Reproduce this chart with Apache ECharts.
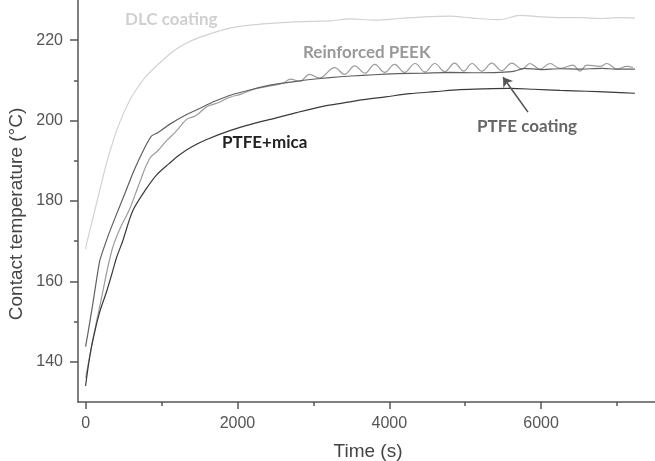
<!DOCTYPE html>
<html>
<head>
<meta charset="utf-8">
<script src="https://cdn.jsdelivr.net/npm/echarts@6/dist/echarts.min.js"></script>
<style>
  html, body { margin: 0; padding: 0; background: #fff; }
  #chart { width: 655px; height: 461px; }
</style>
</head>
<body>
<div id="chart"></div>
<script>
// contact temperature (°C) vs time (s)
const dlcTime = [0, 15, 80, 145, 210, 277, 356, 448, 580, 700, 804, 1015, 1150, 1331, 1500, 1674, 1830, 1990, 2200, 2385, 2700, 3000, 3216, 3500, 3800, 4138, 4450, 4797, 5100, 5456, 5720, 6000, 6250, 6511, 6800, 7000, 7236]
const dlcTemp = [168, 169.5, 174.5, 179.5, 184.5, 189.5, 194.5, 199.5, 205, 208.6, 211.2, 215, 217.2, 219.3, 220.7, 221.8, 222.7, 223.3, 223.8, 224.1, 224.5, 224.7, 224.8, 225.3, 225.0, 225.4, 225.8, 226.0, 225.5, 225.1, 226.2, 225.8, 225.6, 225.6, 225.4, 225.6, 225.5]

const peekTime = [0, 50, 100, 200, 343, 450, 580, 700, 843, 950, 1067, 1200, 1331, 1450, 1600, 1726, 1900, 2050, 2200, 2400, 2600, 2700, 2820, 2950, 3080, 3280, 3410, 3545, 3680, 3810, 3940, 4070, 4200, 4340, 4470, 4600, 4730, 4860, 4980, 5090, 5220, 5350, 5480, 5615, 5750, 5852, 5984, 6116, 6247, 6419, 6511, 6603, 6775, 6867, 6999, 7130, 7210]
const peekTemp = [136, 141, 146, 155, 167.5, 173, 178, 184, 190.5, 192.5, 195, 197.5, 200.3, 201.2, 203.5, 204.3, 205.8, 206.6, 207.7, 208.5, 209.3, 210.3, 209.8, 211.5, 210.6, 213.2, 211.5, 213.6, 211.8, 214.0, 212.0, 214.0, 212.0, 214.2, 212.1, 214.2, 212.2, 214.3, 212.3, 214.2, 212.3, 214.3, 212.4, 214.3, 212.8, 214.2, 212.8, 214.2, 213.0, 213.8, 212.3, 213.8, 213.5, 214.2, 212.8, 213.5, 213.2]

const ptfeTime = [0, 30, 100, 185, 300, 409, 520, 620, 720, 804, 870, 950, 1100, 1331, 1500, 1700, 1937, 2200, 2400, 2600, 2900, 3216, 3500, 3800, 4100, 4450, 4800, 5100, 5456, 5650, 5770, 6000, 6250, 6500, 6800, 7000, 7236]
const ptfeTemp = [143.8, 147, 155, 165, 171.5, 176.8, 182, 186.8, 191, 194.2, 196.2, 197, 199, 201.5, 203, 204.8, 206.5, 207.8, 208.7, 209.3, 210.1, 210.7, 211.1, 211.4, 211.7, 211.8, 212.0, 211.9, 212.0, 212.3, 213.0, 212.7, 212.9, 212.8, 213.0, 212.8, 212.8]

const micaTime = [0, 40, 92, 180, 277, 356, 409, 488, 620, 780, 936, 1100, 1239, 1400, 1595, 1900, 2200, 2500, 2780, 3140, 3400, 3660, 3950, 4270, 4600, 4930, 5250, 5590, 5900, 6250, 6600, 6900, 7236]
const micaTemp = [134, 139.5, 145, 152, 157.5, 162.5, 166, 170, 177.5, 182.5, 186.5, 189.3, 191.5, 193.5, 195.3, 197.5, 199.2, 200.6, 202, 203.6, 204.4, 205.2, 205.9, 206.7, 207.2, 207.7, 207.9, 208, 207.8, 207.5, 207.3, 207.1, 206.8]

const xMajorTicks = [0, 2000, 4000, 6000]
const xMinorTicks = [1000, 3000, 5000, 7000]
const yMajorTicks = [140, 160, 180, 200, 220]
const yMinorTicks = [150, 170, 190, 210]

const zip = (t, v) => t.map((x, i) => [x, v[i]])

const axisColor = '#555'
const tickFont = { color: '#555', fontSize: 16, fontFamily: 'Liberation Sans, Arial, sans-serif', formatter: v => String(v) }
const noteFont = 'bold 17px Lato, sans-serif'

function xAxis(ticks, len, labels) {
  return {
    type: 'value', min: -100, max: 7500, position: 'bottom',
    axisLine: { show: labels, onZero: false, lineStyle: { color: axisColor, width: 1.5 } },
    axisTick: { customValues: ticks, length: len, lineStyle: { color: axisColor, width: 1.5 } },
    axisLabel: labels ? { customValues: ticks, margin: 14, ...tickFont } : { show: false },
    splitLine: { show: false },
  }
}

function yAxis(ticks, len, labels) {
  return {
    type: 'value', min: 130, max: 230, position: 'left',
    axisLine: { show: labels, onZero: false, lineStyle: { color: axisColor, width: 1.5 } },
    axisTick: { customValues: ticks, length: len, lineStyle: { color: axisColor, width: 1.5 } },
    axisLabel: labels ? { customValues: ticks, margin: 15, ...tickFont } : { show: false },
    splitLine: { show: false },
  }
}

function line(name, data, color, smooth, extra) {
  return {
    name, type: 'line', data, showSymbol: false, smooth,
    lineStyle: { color, width: 1.2 },
    xAxisIndex: 0, yAxisIndex: 0,
    ...extra,
  }
}

const chart = echarts.init(document.getElementById('chart'))
chart.setOption({
  animation: false,
  backgroundColor: '#fff',
  grid: { left: 78, right: 0, top: 0, bottom: 59 },
  xAxis: [xAxis(xMajorTicks, 7, true), xAxis(xMinorTicks, 4, false)],
  yAxis: [yAxis(yMajorTicks, 8, true), yAxis(yMinorTicks, 4, false)],
  series: [
    line('DLC coating', zip(dlcTime, dlcTemp), '#d2d2d2', 0.3),
    line('Reinforced PEEK', zip(peekTime, peekTemp), '#9c9c9c', 0.4),
    line('PTFE coating', zip(ptfeTime, ptfeTemp), '#606060', 0.15, {
      markLine: {
        silent: true, symbol: ['none', 'arrow'], symbolSize: 9,
        lineStyle: { color: '#555', width: 1.6, type: 'solid' },
        label: { show: false },
        data: [[{ coord: [5827, 202.1] }, { coord: [5498, 210.8] }]],
      },
    }),
    line('PTFE+mica', zip(micaTime, micaTemp), '#3a3a3a', 0.3),
  ],
  graphic: [
    { type: 'text', x: 125, y: 20, style: { text: 'DLC coating', font: noteFont, fill: '#d0d0d0', verticalAlign: 'middle' } },
    { type: 'text', x: 303, y: 53, style: { text: 'Reinforced PEEK', font: noteFont, fill: '#999', verticalAlign: 'middle' } },
    { type: 'text', x: 477, y: 127, style: { text: 'PTFE coating', font: noteFont, fill: '#666', verticalAlign: 'middle' } },
    { type: 'text', x: 222, y: 143, style: { text: 'PTFE+mica', font: noteFont, fill: '#222', verticalAlign: 'middle' } },
    { type: 'text', x: 17, y: 214, rotation: Math.PI / 2, style: { text: 'Contact temperature (°C)', font: '19px Liberation Sans, Arial, sans-serif', fill: '#444', align: 'center', verticalAlign: 'middle' } },
    { type: 'text', x: 368, y: 452, style: { text: 'Time (s)', font: '19px Liberation Sans, Arial, sans-serif', fill: '#444', align: 'center', verticalAlign: 'middle' } },
  ],
})
</script>
</body>
</html>
